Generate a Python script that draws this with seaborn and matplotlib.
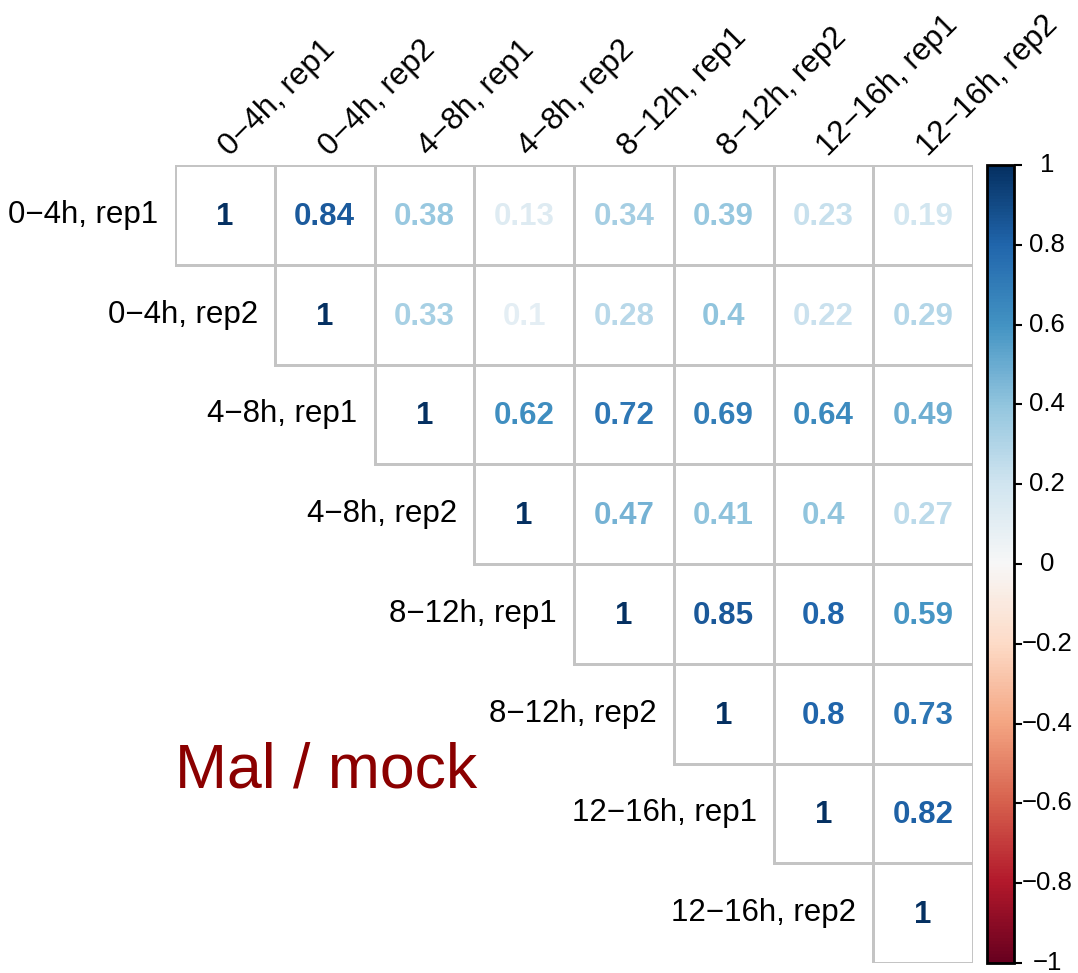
import numpy as np
import pandas as pd
import matplotlib
matplotlib.use("Agg")
import matplotlib.pyplot as plt
from matplotlib.colors import ListedColormap, Normalize
from matplotlib.cm import ScalarMappable
from matplotlib.transforms import blended_transform_factory
import seaborn as sns

labels = ["0\u22124h, rep1", "0\u22124h, rep2", "4\u22128h, rep1", "4\u22128h, rep2",
          "8\u221212h, rep1", "8\u221212h, rep2", "12\u221216h, rep1", "12\u221216h, rep2"]

# upper triangle of the correlation matrix, row by row
row0 = [1, 0.84, 0.38, 0.13, 0.34, 0.39, 0.23, 0.19]
row1 = [1, 0.33, 0.10, 0.28, 0.40, 0.22, 0.29]
row2 = [1, 0.62, 0.72, 0.69, 0.64, 0.49]
row3 = [1, 0.47, 0.41, 0.40, 0.27]
row4 = [1, 0.85, 0.80, 0.59]
row5 = [1, 0.80, 0.73]
row6 = [1, 0.82]
row7 = [1]
rows = [row0, row1, row2, row3, row4, row5, row6, row7]

cbar_ticks = [-1, -0.8, -0.6, -0.4, -0.2, 0, 0.2, 0.4, 0.6, 0.8, 1]
cbar_labels = ["\u22121", "\u22120.8", "\u22120.6", "\u22120.4", "\u22120.2", "0",
               "0.2", "0.4", "0.6", "0.8", "1"]

n = len(labels)
mat = np.full((n, n), np.nan)
for i, r in enumerate(rows):
    mat[i, i:] = r
    mat[i:, i] = r
df = pd.DataFrame(mat, index=labels, columns=labels)
mask = np.tril(np.ones((n, n), dtype=bool), k=-1)

sns.set_theme(style="white")
plt.rcParams["font.family"] = ["Liberation Sans", "DejaVu Sans"]

W, H = 1078, 973
fig = plt.figure(figsize=(W / 100, H / 100), dpi=100)
ax = fig.add_axes([175 / W, 1 - 963 / H, (973 - 175) / W, (963 - 165) / H])
cax = fig.add_axes([987 / W, 1 - 963 / H, (1014 - 987) / W, (963 - 165) / H])

cmap = plt.get_cmap("RdBu")
norm = Normalize(vmin=-1, vmax=1)

sns.heatmap(df, mask=mask, cmap=ListedColormap(["white"]), cbar=False,
            linewidths=2, linecolor="#c4c4c4", square=False, ax=ax,
            xticklabels=False, yticklabels=False)
# hide the borders of the lower-triangle cells
mesh = ax.collections[0]
edge = ["none" if m else "#c4c4c4" for m in mask.ravel()]
mesh.set_edgecolors(edge)
ax.set_xlabel("")
ax.set_ylabel("")

label_fs = 22.5
for i in range(n):
    for j in range(i, n):
        v = mat[i, j]
        txt = "1" if v == 1 else f"{v:.2f}".rstrip("0").rstrip(".")
        ax.text(j + 0.5, i + 0.52, txt, ha="center", va="center",
                fontsize=22.5, fontweight="bold", color=cmap(norm(v)))
    # row label left of the diagonal cell
    ax.text(i - 0.17, i + 0.5, labels[i], ha="right", va="center",
            fontsize=label_fs, color="black")
    # column label above the top row, rotated
    ax.text(i + 0.55, -0.08, labels[i], ha="left", va="baseline",
            rotation=45, rotation_mode="anchor", fontsize=label_fs,
            color="black", clip_on=False)

for s in ax.spines.values():
    s.set_visible(False)

ax.text(0.0, 6.24, "Mal / mock", ha="left", va="baseline",
        fontsize=45, color="#8B0000")

cb = fig.colorbar(ScalarMappable(norm=norm, cmap=cmap), cax=cax)
cb.set_ticks(cbar_ticks)
cb.set_ticklabels([""] * len(cbar_ticks))
cb.outline.set_edgecolor("black")
cb.outline.set_linewidth(2)
cax.tick_params(axis="y", which="major", direction="out", length=6, width=1.5,
                colors="black", right=True)
tr = blended_transform_factory(cax.transAxes, cax.transData)
for val, lab in zip(cbar_ticks, cbar_labels):
    cax.text(2.23, val, lab, transform=tr, ha="center", va="center",
             fontsize=18.5, color="black", clip_on=False)

fig.savefig("out.png", dpi=100, facecolor="white")
